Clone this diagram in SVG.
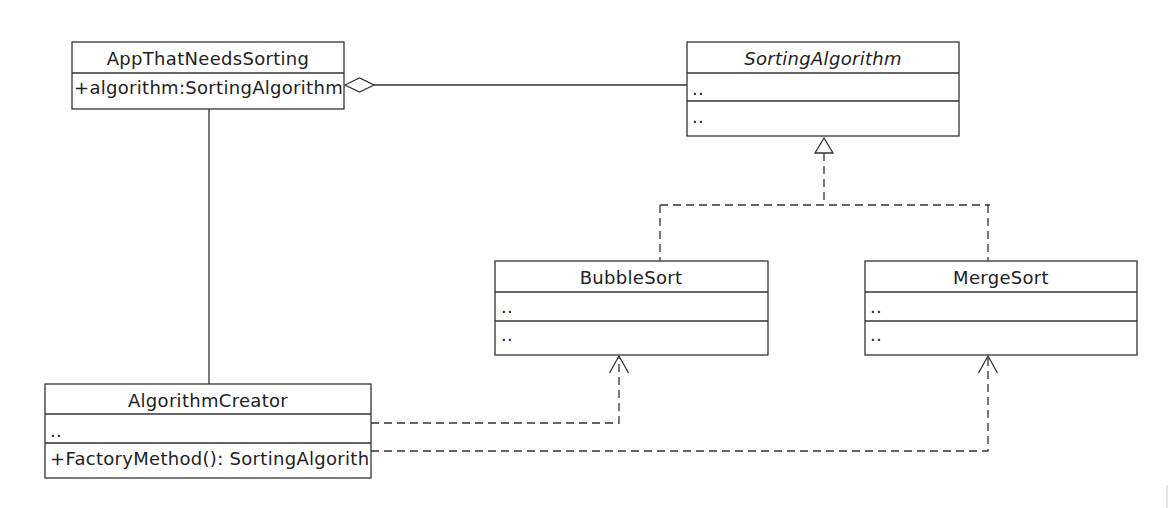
<svg xmlns="http://www.w3.org/2000/svg" width="1170" height="508" viewBox="0 0 1170 508">
<style>
.box{fill:#fff;stroke:#333;stroke-width:1.3}
.div{stroke:#333;stroke-width:1.3}
.t{font-family:"DejaVu Sans",sans-serif;font-size:18px;letter-spacing:0.3px;fill:#222}
.c{text-anchor:middle}
.i{font-style:italic}
.ln{fill:none;stroke:#333;stroke-width:1.3}
.dash{fill:none;stroke:#333;stroke-width:1.3;stroke-dasharray:8,5}
</style>
<defs>
<clipPath id="clipApp"><rect x="72" y="73" width="272" height="36"/></clipPath>
<clipPath id="clipCreator"><rect x="45" y="443" width="326" height="35"/></clipPath>
<marker id="open" markerWidth="24" markerHeight="24" refX="20" refY="12" orient="auto" markerUnits="userSpaceOnUse" viewBox="0 0 24 24">
<path d="M3,2.5 L20,12 L3,21.5" fill="none" stroke="#333" stroke-width="1.3"/>
</marker>
</defs>
<rect width="1170" height="508" fill="#fff"/>
<g id="connectors">
<line class="ln" x1="209" y1="109" x2="209" y2="384"/>
<path class="ln" d="M345,85 L359.5,78 L374,85 L359.5,92 Z" fill="#fff"/>
<line class="ln" x1="374" y1="85" x2="687" y2="85"/>
<path class="ln" d="M824,138 L815,153 L833,153 Z" fill="#fff"/>
<line class="dash" x1="824" y1="153" x2="824" y2="205"/>
<line class="dash" x1="660" y1="205" x2="990" y2="205"/>
<line class="dash" x1="660" y1="205" x2="660" y2="261"/>
<line class="dash" x1="988" y1="205" x2="988" y2="261"/>
<path class="dash" d="M371,423 L619,423 L619,356" marker-end="url(#open)"/>
<path class="dash" d="M371,451 L988,451 L988,356" marker-end="url(#open)"/>
</g>
<g id="AppThatNeedsSorting">
<rect class="box" x="72" y="42" width="272" height="67"/>
<line class="div" x1="72" y1="73" x2="344" y2="73"/>
<text class="t c" x="208" y="65">AppThatNeedsSorting</text>
<text class="t" x="74" y="94" clip-path="url(#clipApp)">+algorithm:SortingAlgorithm</text>
</g>
<g id="SortingAlgorithm">
<rect class="box" x="687" y="42" width="272" height="94"/>
<line class="div" x1="687" y1="73" x2="959" y2="73"/>
<line class="div" x1="687" y1="101" x2="959" y2="101"/>
<text class="t c i" x="823" y="65">SortingAlgorithm</text>
<text class="t" x="692" y="95">..</text>
<text class="t" x="692" y="123">..</text>
</g>
<g id="BubbleSort">
<rect class="box" x="495" y="261" width="273" height="94"/>
<line class="div" x1="495" y1="292" x2="768" y2="292"/>
<line class="div" x1="495" y1="321" x2="768" y2="321"/>
<text class="t c" x="631" y="284">BubbleSort</text>
<text class="t" x="501" y="313">..</text>
<text class="t" x="501" y="341">..</text>
</g>
<g id="MergeSort">
<rect class="box" x="865" y="261" width="272" height="94"/>
<line class="div" x1="865" y1="292" x2="1137" y2="292"/>
<line class="div" x1="865" y1="321" x2="1137" y2="321"/>
<text class="t c" x="1001" y="284">MergeSort</text>
<text class="t" x="870" y="313">..</text>
<text class="t" x="870" y="341">..</text>
</g>
<g id="AlgorithmCreator">
<rect class="box" x="45" y="384" width="326" height="94"/>
<line class="div" x1="45" y1="414" x2="371" y2="414"/>
<line class="div" x1="45" y1="443" x2="371" y2="443"/>
<text class="t c" x="208" y="407">AlgorithmCreator</text>
<text class="t" x="50" y="437">..</text>
<text class="t" x="50" y="465" clip-path="url(#clipCreator)">+FactoryMethod(): SortingAlgorith</text>
</g>
<line x1="1167" y1="485" x2="1167" y2="508" stroke="#ccc" stroke-width="1"/>
</svg>
